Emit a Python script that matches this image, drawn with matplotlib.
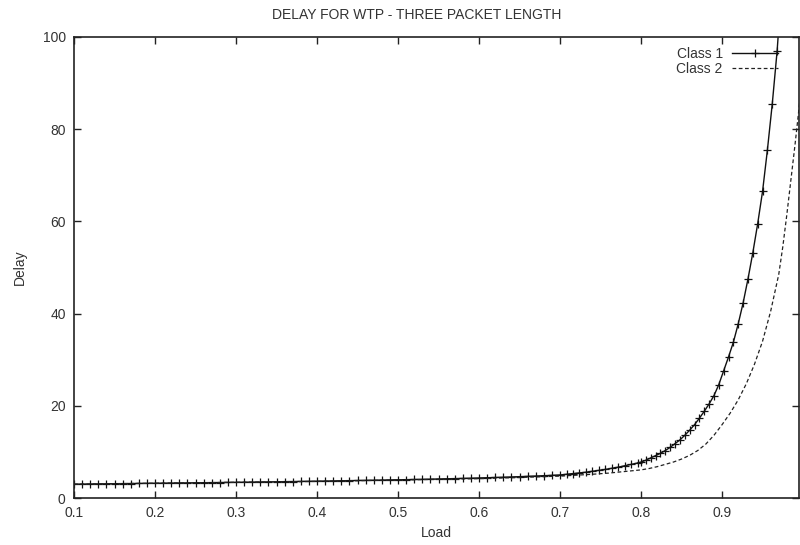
import matplotlib
matplotlib.use("Agg")
import matplotlib.pyplot as plt

plt.rcParams['font.family'] = ['Liberation Sans', 'DejaVu Sans']

# Class 1 (solid line with + markers)
load_1 = [0.10, 0.11, 0.12, 0.13, 0.14, 0.15, 0.16, 0.17, 0.18, 0.19,
          0.20, 0.21, 0.22, 0.23, 0.24, 0.25, 0.26, 0.27, 0.28, 0.29,
          0.30, 0.31, 0.32, 0.33, 0.34, 0.35, 0.36, 0.37, 0.38, 0.39,
          0.40, 0.41, 0.42, 0.43, 0.44, 0.45, 0.46, 0.47, 0.48, 0.49,
          0.50, 0.51, 0.52, 0.53, 0.54, 0.55, 0.56, 0.57, 0.58, 0.59,
          0.60, 0.61, 0.62, 0.63, 0.64, 0.65, 0.66, 0.67, 0.68, 0.69,
          0.70, 0.708, 0.716, 0.724, 0.732, 0.740, 0.748, 0.756, 0.764,
          0.772, 0.780, 0.788, 0.796,
          0.800, 0.806, 0.812, 0.818, 0.824, 0.830, 0.836, 0.842, 0.848,
          0.854, 0.860, 0.866, 0.872, 0.878, 0.884, 0.890, 0.896, 0.902,
          0.908, 0.914, 0.920, 0.926, 0.932, 0.938, 0.944, 0.950, 0.956,
          0.962, 0.968, 0.974]
delay_1 = [3.00, 3.02, 3.04, 3.06, 3.08, 3.10, 3.12, 3.14, 3.16, 3.18,
           3.20, 3.22, 3.24, 3.26, 3.28, 3.30, 3.32, 3.34, 3.36, 3.38,
           3.40, 3.42, 3.45, 3.47, 3.50, 3.52, 3.55, 3.57, 3.60, 3.62,
           3.65, 3.68, 3.71, 3.74, 3.77, 3.80, 3.83, 3.86, 3.89, 3.92,
           3.95, 3.98, 4.02, 4.05, 4.09, 4.13, 4.17, 4.21, 4.26, 4.30,
           4.35, 4.40, 4.45, 4.51, 4.57, 4.63, 4.70, 4.77, 4.84, 4.92,
           5.00, 5.15, 5.30, 5.45, 5.60, 5.80, 6.00, 6.20, 6.45,
           6.70, 7.00, 7.30, 7.60,
           7.80, 8.20, 8.70, 9.20, 9.70, 10.3, 11.0, 11.8, 12.6,
           13.6, 14.7, 15.9, 17.3, 18.8, 20.4, 22.2, 24.6, 27.6,
           30.6, 33.8, 37.8, 42.3, 47.5, 53.2, 59.5, 66.5, 75.5,
           85.5, 97.0, 112.0]

# Class 2 (dashed line)
load_2 = [0.10, 0.15, 0.20, 0.25, 0.30, 0.35, 0.40, 0.45, 0.50, 0.55,
          0.60, 0.65, 0.70, 0.72, 0.74, 0.76, 0.78, 0.80, 0.81, 0.82,
          0.83, 0.84, 0.85, 0.86, 0.87, 0.88, 0.89, 0.90, 0.91, 0.92,
          0.93, 0.94, 0.95, 0.96, 0.97, 0.975, 0.98, 0.985, 0.99, 0.995,
          1.00]
delay_2 = [3.00, 3.10, 3.20, 3.30, 3.40, 3.50, 3.60, 3.75, 3.90, 4.05,
           4.20, 4.45, 4.75, 4.95, 5.15, 5.40, 5.75, 6.10, 6.40, 6.80,
           7.30, 7.80, 8.45, 9.25, 10.3, 11.7, 13.6, 15.9, 18.4, 21.3,
           24.8, 29.0, 34.0, 40.5, 48.5, 54.5, 61.5, 69.0, 76.5, 84.5,
           93.0]

x_ticks = [0.1, 0.2, 0.3, 0.4, 0.5, 0.6, 0.7, 0.8, 0.9]
y_ticks = [0, 20, 40, 60, 80, 100]

fig = plt.figure(figsize=(8.0, 5.45), dpi=100)
ax = fig.add_axes([74 / 800, 1 - 498 / 545, 725 / 800, 461 / 545])

ax.plot(load_1, delay_1, color='#111111', lw=1.0, marker='+', ms=6,
        mew=0.9, label='Class 1')
ax.plot(load_2, delay_2, color='#222222', lw=0.9, ls=(0, (3, 2)),
        label='Class 2')

ax.set_xlim(0.1, 0.995)
ax.set_ylim(0, 100)
ax.set_xticks(x_ticks)
ax.set_xticklabels([f"{v:.1f}" for v in x_ticks])
ax.set_yticks(y_ticks)

ax.tick_params(direction='in', length=5, width=1.0, top=True, right=True,
               labelsize=10, colors='#222222', labelcolor='#333333', pad=6)
for sp in ax.spines.values():
    sp.set_linewidth(1.2)
    sp.set_color('#222222')

ax.set_xlabel('Load', fontsize=10, color='#333333', labelpad=4)
ax.set_ylabel('Delay', fontsize=10, color='#333333', labelpad=11)
fig.text(417 / 800, 1 - 15 / 545, 'DELAY FOR WTP - THREE PACKET LENGTH',
         ha='center', va='center', fontsize=10, color='#333333')

leg = ax.legend(loc='upper right', frameon=False, markerfirst=False,
                numpoints=1, handlelength=3.3, fontsize=10,
                labelspacing=0.1, borderaxespad=0.3, handletextpad=0.7,
                bbox_to_anchor=(1 - 11 / 725, 1.0))
for t in leg.get_texts():
    t.set_color('#333333')

fig.savefig('out.png', dpi=100)
